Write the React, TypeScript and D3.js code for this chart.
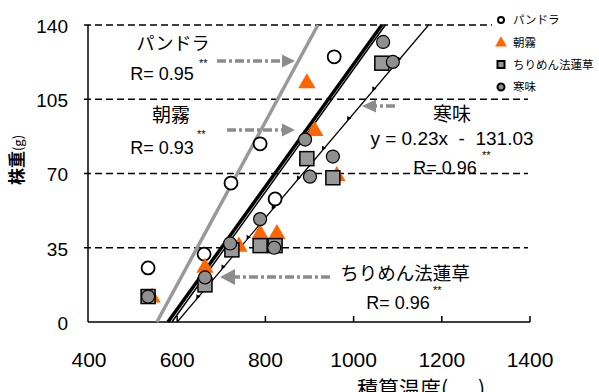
import * as d3 from 'd3';
import React from 'react';

// series values (x: 積算温度, y: 株重 g)
const pandoraX = [534, 661, 722, 788, 822, 956];
const pandoraY = [25.5, 32, 65.5, 84, 58, 125];
const asagiriX = [543, 663, 740, 788, 826, 894, 912, 962];
const asagiriY = [12, 26, 36, 42, 42, 113, 90.5, 69.3];
const chirimenX = [534, 663, 724, 788, 822, 894, 953, 1064];
const chirimenY = [12, 17.5, 34, 36, 36, 77, 68, 122];
const kanmiX = [534, 663, 720, 788, 820, 890, 901, 953, 1067, 1089];
const kanmiY = [12, 21, 37, 48.5, 35, 86, 68.5, 78, 132, 122.6];

// regression lines: x where y=0 and x where y=140
const fitX0 = [554, 579, 588, 600];
const fitX1 = [919, 1064, 1072, 1170];
const fitMarkY = [12, 26, 40, 54, 68, 82, 96, 110, 124];

const xTicks = [400, 600, 800, 1000, 1200, 1400];
const yTicks = [0, 35, 70, 105, 140];
const legendNames = ['パンドラ', '朝霧', 'ちりめん法蓮草', '寒味'];

const FONT = "'Liberation Sans', Arial, 'Noto Sans CJK JP', sans-serif";
const JP = "'Noto Sans CJK JP', 'Liberation Sans', sans-serif";

export default function App() {
  const x = d3.scaleLinear().domain([400, 1400]).range([89, 530]);
  const y = d3.scaleLinear().domain([0, 140]).range([322, 25]);
  const tri = d3.symbol().type(d3.symbolTriangle);
  const gridEnd = [530, 528, 528, 528, 492];

  const arrow = (x1: number, x2: number, tip: number, yy: number, h: number) => (
    <g>
      <line x1={x1} x2={x2} y1={yy} y2={yy} stroke="#8c8c8c" strokeWidth={3.5} strokeDasharray="9,3,3,3" />
      <path d={`M${x2},${yy - h}L${tip},${yy}L${x2},${yy + h}Z`} fill="#8c8c8c" />
    </g>
  );

  return (
    <svg width={599} height={392} style={{ position: 'absolute', left: 0, top: 0, background: '#fff' }} fontFamily={FONT}>
      {/* grid lines */}
      {yTicks.slice(1).map((t, i) => (
        <line key={t} x1={84} x2={gridEnd[i + 1]} y1={y(t)} y2={y(t)} stroke="#000" strokeWidth={1.5} strokeDasharray="7,4" />
      ))}
      {/* axes */}
      <line x1={88} x2={88} y1={y(140)} y2={y(0)} stroke="#000" strokeWidth={1.5} />
      <line x1={88} x2={530} y1={y(0)} y2={y(0)} stroke="#000" strokeWidth={1.5} />
      {xTicks.slice(1).map(t => (
        <line key={t} x1={x(t)} x2={x(t)} y1={y(0)} y2={y(0) - 6} stroke="#000" strokeWidth={1.5} />
      ))}
      {yTicks.map(t => (
        <text key={t} x={68} y={y(t)} dy="0.42em" textAnchor="end" fontSize={19}>{t}</text>
      ))}
      {xTicks.map(t => (
        <text key={t} x={x(t)} y={367} textAnchor="middle" fontSize={21}>{t}</text>
      ))}
      <text x={357} y={396} fontSize={21} fontFamily={JP}>
        積算温度(<tspan x={478}>)</tspan>
      </text>
      <text transform="translate(23,160) rotate(-90)" textAnchor="middle" fontFamily={JP}>
        <tspan fontSize={17} fontWeight="bold">株重</tspan>
        <tspan fontSize={13}>(g)</tspan>
      </text>

      {/* regression lines */}
      <line x1={x(fitX0[0])} y1={y(0)} x2={x(fitX1[0])} y2={y(140)} stroke="#999" strokeWidth={3.5} />
      <line x1={x(fitX0[1])} y1={y(0)} x2={x(fitX1[1])} y2={y(140)} stroke="#000" strokeWidth={3.5} />
      <line x1={x(fitX0[2])} y1={y(0)} x2={x(fitX1[2])} y2={y(140)} stroke="#000" strokeWidth={1.5} />
      <line x1={x(fitX0[3])} y1={y(0)} x2={x(fitX1[3])} y2={y(140)} stroke="#000" strokeWidth={1.2} />
      {fitMarkY.map(v => {
        const xv = fitX0[3] + (fitX1[3] - fitX0[3]) * v / 140;
        return <path key={v} d={tri.size(10)()!} transform={`translate(${x(xv) - 1},${y(v)}) rotate(-30)`} fill="#000" />;
      })}

      {/* series */}
      {pandoraX.map((v, i) => (
        <circle key={'p' + i} cx={x(v)} cy={y(pandoraY[i])} r={6.5} fill="#fff" stroke="#000" strokeWidth={1.8} />
      ))}
      {asagiriX.map((v, i) => (
        <path key={'a' + i} d={tri.size(130)()!} transform={`translate(${x(v)},${y(asagiriY[i]) + 1})`} fill="#ff6600" />
      ))}
      {chirimenX.map((v, i) => (
        <rect key={'c' + i} x={x(v) - 7} y={y(chirimenY[i]) - 7} width={14} height={14} fill="#999" stroke="#000" strokeWidth={1.5} />
      ))}
      {kanmiX.map((v, i) => (
        <circle key={'k' + i} cx={x(v)} cy={y(kanmiY[i])} r={6.5} fill="#8f8f8f" stroke="#000" strokeWidth={1.2} />
      ))}

      {/* annotations */}
      <text x={173} y={50} textAnchor="middle" fontSize={18} fontFamily={JP}>パンドラ</text>
      <text x={162} y={80} textAnchor="middle" fontSize={18}>R= 0.95</text>
      <text x={199} y={67} fontSize={11}>**</text>
      {arrow(217, 282, 295, 61, 6.5)}

      <text x={171} y={122} textAnchor="middle" fontSize={19} fontFamily={JP}>朝霧</text>
      <text x={162} y={154} textAnchor="middle" fontSize={18}>R= 0.93</text>
      <text x={197} y={138} fontSize={11}>**</text>
      {arrow(227, 282, 295, 130, 6.5)}

      <text x={452} y={121} textAnchor="middle" fontSize={19} fontFamily={JP}>寒味</text>
      <text x={452} y={145} textAnchor="middle" fontSize={19} style={{ whiteSpace: 'pre' }}>y = 0.23x  -  131.03</text>
      <text x={445} y={174} textAnchor="middle" fontSize={18}>R= 0.96</text>
      <text x={482} y={159} fontSize={11}>**</text>
      {arrow(395, 376, 362, 106, 6.5)}

      <text x={405} y={280} textAnchor="middle" fontSize={18.5} fontFamily={JP}>ちりめん法蓮草</text>
      <text x={398} y={309} textAnchor="middle" fontSize={18}>R= 0.96</text>
      <text x={433} y={294} fontSize={11}>**</text>
      {arrow(330, 235, 220, 277, 8)}

      {/* legend */}
      <g fontFamily={JP} fontSize={11.5}>
        <circle cx={501} cy={20} r={3} fill="#fff" stroke="#000" strokeWidth={2} />
        <path d={tri.size(60)()!} transform="translate(501,43)" fill="#ff6600" />
        <rect x={497.5} y={61} width={7} height={7} fill="#999" stroke="#000" strokeWidth={2} />
        <circle cx={501} cy={87} r={3.5} fill="#8f8f8f" stroke="#000" strokeWidth={2} />
        {legendNames.map((n, i) => (
          <text key={n} x={513} y={[20, 43, 65, 87][i]} dy="0.36em">{n}</text>
        ))}
      </g>
    </svg>
  );
}
